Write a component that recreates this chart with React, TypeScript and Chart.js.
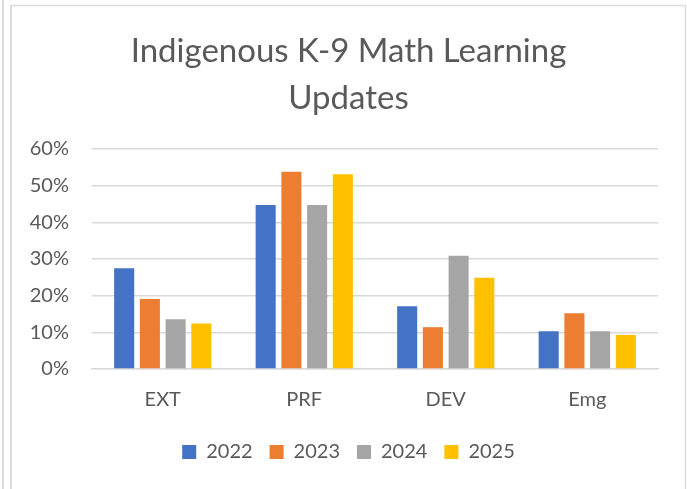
import React, { useEffect, useRef } from "react";
import { Chart, registerables } from "chart.js";

Chart.register(...registerables);

const categories = ["EXT", "PRF", "DEV", "Emg"];
const seriesNames = ["2022", "2023", "2024", "2025"];
const values2022 = [27.5, 44.7, 17.1, 10.3];
const values2023 = [19.1, 53.8, 11.4, 15.2];
const values2024 = [13.6, 44.7, 30.9, 10.3];
const values2025 = [12.4, 53.1, 24.9, 9.3];
const colors = ["#4472C4", "#ED7D31", "#A5A5A5", "#FFC000"];
const titleLines = ["Indigenous K-9 Math Learning", "Updates"];

const FONT = "Lato, 'Open Sans', sans-serif";
const TEXT = "#595959";

const framePlugin = {
  id: "frame",
  beforeDraw(chart: any) {
    const ctx = chart.ctx;
    ctx.save();
    ctx.fillStyle = "#ffffff";
    ctx.fillRect(0, 0, chart.width, chart.height);
    ctx.strokeStyle = "#dcdcdc";
    ctx.lineWidth = 2;
    ctx.beginPath();
    ctx.moveTo(3, 0);
    ctx.lineTo(3, chart.height);
    ctx.moveTo(11, 5);
    ctx.lineTo(11, chart.height);
    ctx.stroke();
    ctx.lineWidth = 1.5;
    ctx.beginPath();
    ctx.moveTo(10, 5.5);
    ctx.lineTo(686, 5.5);
    ctx.moveTo(685.5, 5);
    ctx.lineTo(685.5, chart.height);
    ctx.stroke();
    ctx.restore();
  },
};

export default function App() {
  const ref = useRef<HTMLCanvasElement>(null);
  useEffect(() => {
    document.body.style.margin = "0";
    const all = [values2022, values2023, values2024, values2025];
    const chart = new Chart(ref.current!, {
      type: "bar",
      data: {
        labels: categories,
        datasets: seriesNames.map((n, i) => ({
          label: n,
          data: all[i],
          backgroundColor: colors[i],
          borderWidth: 0,
          categoryPercentage: 0.727,
          barPercentage: 0.78,
          yAxisID: "y",
        })),
      },
      options: {
        responsive: false,
        animation: false,
        layout: { padding: { left: 10, right: 0, top: 0, bottom: 17 } },
        plugins: {
          title: {
            display: true,
            text: titleLines,
            color: TEXT,
            font: { family: FONT, size: 33, weight: "normal", lineHeight: "47px" },
            padding: { top: 28, bottom: 27 },
          },
          legend: {
            position: "bottom",
            labels: {
              color: TEXT,
              font: { family: FONT, size: 20 },
              boxWidth: 14,
              boxHeight: 14,
              padding: 17,
            },
          },
          tooltip: { enabled: false },
        },
        scales: {
          x: {
            afterFit: (s: any) => {
              s.height = 56;
            },
            grid: { display: false, drawTicks: false },
            border: { display: true, color: "#d9d9d9", width: 1.5 },
            ticks: { color: TEXT, font: { family: FONT, size: 20 }, padding: 19 },
          },
          y: {
            min: 0,
            max: 60,
            afterFit: (s: any) => {
              s.width = 82;
            },
            grid: { color: "#d9d9d9", lineWidth: 1.5, drawTicks: false },
            border: { display: false },
            ticks: {
              stepSize: 10,
              color: TEXT,
              font: { family: FONT, size: 20 },
              padding: 23,
              callback: (v: any) => v + "%",
            },
          },
          y2: {
            position: "right",
            display: true,
            min: 0,
            max: 60,
            afterFit: (s: any) => {
              s.width = 29;
            },
            grid: { display: false, drawTicks: false },
            border: { display: false },
            ticks: { display: false },
          },
        },
      },
      plugins: [framePlugin],
    });
    return () => chart.destroy();
  }, []);
  return <canvas ref={ref} width={687} height={489} style={{ display: "block" }} />;
}
